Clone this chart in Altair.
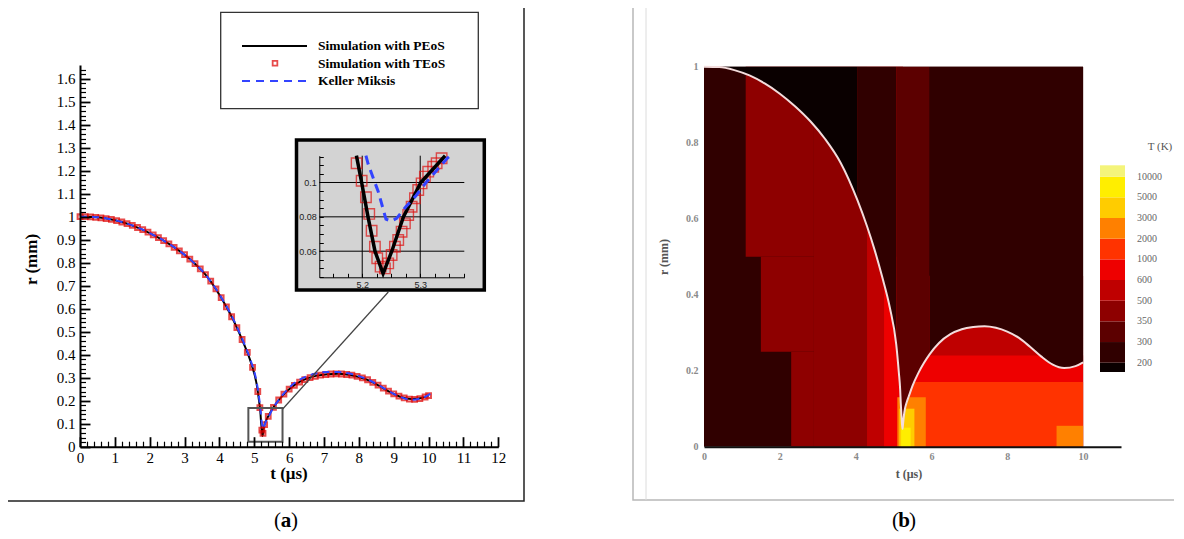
import altair as alt
import pandas as pd

# ---------------- data ----------------
# bubble radius r (mm) vs time t (us)
t_peos = [0.0, 0.4, 0.8, 1.2, 1.6, 2.0, 2.4, 2.8, 3.2, 3.6,
          4.05, 4.3, 4.5, 4.7, 4.9, 5.07, 5.14, 5.175, 5.19, 5.199,
          5.21, 5.222, 5.236, 5.251, 5.271, 5.301, 5.343, 5.4, 5.5, 5.65,
          5.8, 5.95, 6.2, 6.5, 6.8, 7.1, 7.4, 7.7, 8.0, 8.3,
          8.6, 8.9, 9.2, 9.5, 9.8, 10.0]
r_peos = [1.000, 0.999, 0.991, 0.977, 0.956, 0.929, 0.896, 0.857, 0.809, 0.748,
          0.648, 0.580, 0.518, 0.447, 0.367, 0.270, 0.195, 0.150, 0.1156, 0.100,
          0.080, 0.060, 0.047, 0.060, 0.080, 0.100, 0.1156, 0.132, 0.160, 0.193,
          0.220, 0.243, 0.273, 0.296, 0.309, 0.315, 0.317, 0.313, 0.303, 0.287,
          0.263, 0.237, 0.216, 0.207, 0.212, 0.222]

t_km = [0.0, 0.4, 0.8, 1.2, 1.6, 2.0, 2.4, 2.8, 3.2, 3.6,
        4.05, 4.3, 4.5, 4.7, 4.9, 5.07, 5.14, 5.18, 5.2064, 5.2102,
        5.2277, 5.2409, 5.25, 5.2593, 5.2753, 5.2926, 5.31, 5.3455, 5.352, 5.4,
        5.5, 5.65, 5.8, 5.95, 6.2, 6.5, 6.8, 7.1, 7.4, 7.7,
        8.0, 8.3, 8.6, 8.9, 9.2, 9.5, 9.8, 10.1]
r_km = [1.000, 0.999, 0.991, 0.977, 0.956, 0.929, 0.896, 0.857, 0.809, 0.748,
        0.650, 0.584, 0.522, 0.452, 0.373, 0.279, 0.210, 0.160, 0.1156, 0.1107,
        0.0946, 0.0787, 0.0775, 0.0791, 0.0859, 0.0923, 0.100, 0.1137, 0.1156, 0.127,
        0.157, 0.193, 0.223, 0.249, 0.282, 0.306, 0.319, 0.325, 0.325, 0.319,
        0.307, 0.289, 0.264, 0.238, 0.216, 0.204, 0.211, 0.235]

# TEoS markers as drawn in the main axes
t_teos = [0.0, 0.15, 0.3, 0.45, 0.6, 0.75, 0.9, 1.05, 1.2, 1.35,
          1.5, 1.65, 1.8, 1.95, 2.1, 2.25, 2.4, 2.55, 2.7, 2.85,
          3.0, 3.15, 3.3, 3.45, 3.6, 3.75, 3.9, 4.05, 4.2, 4.35,
          4.5, 4.65, 4.8, 4.95, 5.1, 5.16, 5.2162, 5.2507, 5.2966,
          5.4, 5.55, 5.7, 5.85, 6.0, 6.15, 6.3, 6.45, 6.6, 6.75,
          6.9, 7.05, 7.2, 7.35, 7.5, 7.65, 7.8, 7.95, 8.1, 8.25,
          8.4, 8.55, 8.7, 8.85, 9.0, 9.15, 9.3, 9.45, 9.6, 9.75,
          9.9, 10.0]
r_teos = [1.000, 1.000, 0.999, 0.997, 0.995, 0.992, 0.988, 0.983, 0.977, 0.970,
          0.962, 0.953, 0.944, 0.933, 0.921, 0.909, 0.896, 0.882, 0.867, 0.851,
          0.835, 0.816, 0.796, 0.773, 0.748, 0.720, 0.686, 0.648, 0.608, 0.565,
          0.518, 0.466, 0.410, 0.345, 0.240, 0.170, 0.0719, 0.0578, 0.0956,
          0.132, 0.171, 0.203, 0.229, 0.250, 0.267, 0.281, 0.292, 0.300, 0.306,
          0.311, 0.314, 0.316, 0.317, 0.316, 0.314, 0.311, 0.306, 0.299, 0.291,
          0.280, 0.268, 0.255, 0.242, 0.230, 0.220, 0.212, 0.207, 0.206, 0.209,
          0.216, 0.222]
# TEoS markers around the collapse (inset)
t_teos_zoom = [5.1903, 5.1990, 5.2064, 5.2121, 5.2162, 5.2219, 5.2259, 5.2317, 5.2391, 5.2448,
               5.2507, 5.2564, 5.2621, 5.2679, 5.2736, 5.2793, 5.2852, 5.2909, 5.2966, 5.3024,
               5.3081, 5.3138, 5.3224, 5.3283, 5.3369]
r_teos_zoom = [0.1112, 0.1010, 0.0914, 0.0817, 0.0719, 0.0626, 0.0559, 0.0510, 0.0500, 0.0529,
               0.0578, 0.0626, 0.0665, 0.0713, 0.0762, 0.0811, 0.0859, 0.0908, 0.0956, 0.0995,
               0.1034, 0.1063, 0.1092, 0.1112, 0.1141]

legend_names = ["Simulation with PEoS", "Simulation with TEoS", "Keller Miksis"]
zoom_window = [4.83, 5.81, 0.022, 0.168]          # t0, t1, r0, r1 of the small box
inset_t_domain = [5.126, 5.376]
inset_r_domain = [0.0448, 0.1156]
inset_grid_r = [0.06, 0.08, 0.1]
inset_grid_t = [5.2, 5.3]

# temperature field (panel b)
T_levels = [200, 300, 350, 500, 600, 1000, 2000, 3000, 5000, 10000]
T_labels = ["200", "300", "350", "500", "600", "1000", "2000", "3000", "5000", "10000"]
T_colors = ["#0a0000", "#300000", "#5c0000", "#8e0000", "#bf0000", "#ee0000",
            "#ff3300", "#ff8000", "#ffcc00", "#ffee00", "#f4f47a"]
# bubble-interior regions: t0, t1, r0, r1, T
hm_t0 = [0.0, 1.1, 1.5, 2.3, 2.9, 4.3, 4.75, 5.25, 5.25, 5.4, 5.1, 5.15, 5.2, 9.3]
hm_t1 = [10.0, 2.9, 2.9, 2.9, 4.3, 5.25, 5.2, 10.0, 10.0, 10.0, 5.85, 5.55, 5.45, 10.0]
hm_r0 = [0, 0.5, 0.25, 0, 0, 0, 0, 0, 0, 0, 0, 0, 0, 0]
hm_r1 = [1, 1, 0.5, 0.25, 1, 1, 0.5, 0.45, 0.24, 0.17, 0.13, 0.1, 0.05, 0.055]
hm_T = [250, 400, 400, 400, 400, 550, 800, 550, 800, 1500, 2500, 4000, 6000, 2500]
# liquid (outside the bubble) zones: t0, t1, T
ext_t0 = [0.0, 4.05, 5.07, 5.95]
ext_t1 = [4.05, 5.07, 5.95, 10.0]
ext_T = [150, 250, 320, 250]

# ---------------- layout helpers ----------------
W, H = 1166, 529
SERIF = "Liberation Serif"
SANS = "Liberation Sans"


def px(x):
    return x - 8


def py(y):
    return y - 8


def S(domain, rng):
    return alt.Scale(domain=domain, range=rng, nice=False, zero=False)


def ax(**kw):
    base = dict(grid=False, title=None, zindex=1, labelFlush=False, labelOverlap=False)
    base.update(kw)
    return alt.Axis(**base)


def tick_axis(orient, offset, values, size, width):
    return ax(orient=orient, offset=offset, values=values, labels=False, domain=False,
              ticks=True, tickSize=size, tickWidth=width, tickColor="black")


dummy = pd.DataFrame({"d": [0]})


def deco_rect(x0, y0, x1, y1, **kw):
    return alt.Chart(dummy).mark_rect(**kw).encode(
        x=alt.value(px(x0)), x2=alt.value(px(x1)), y=alt.value(py(y0)), y2=alt.value(py(y1)))


def deco_rule(x0, y0, x1, y1, **kw):
    return alt.Chart(dummy).mark_rule(**kw).encode(
        x=alt.value(px(x0)), x2=alt.value(px(x1)), y=alt.value(py(y0)), y2=alt.value(py(y1)))


def deco_text(x, y, text, **kw):
    return alt.Chart(dummy).mark_text(text=text, **kw).encode(
        x=alt.value(px(x)), y=alt.value(py(y)))


# scales (pixel ranges inside the single canvas)
A_X0, A_X1 = px(80), px(498.3)
A_Y0, A_YT = py(446.7), py(64.9)
SXA = S([0, 12], [A_X0, A_X1])
SYA = S([0, 1.66], [A_Y0, A_YT])

I_X0, I_X1 = px(319.3), px(464.3)
I_Y0, I_Y1 = py(277.3), py(155.7)
SXI = S(inset_t_domain, [I_X0, I_X1])
SYI = S(inset_r_domain, [I_Y0, I_Y1])

SXB = S([0, 11], [px(704), px(1121)])
SYB = S([0, 1], [py(446.7), py(66.7)])
SYC = S([-0.45, 9.55], [py(372), py(165.3)])

thresh = alt.Scale(type="threshold", domain=T_levels, range=T_colors)

x_major_a = list(range(13))
x_minor_a = [round(0.2 * i, 1) for i in range(61) if i % 5]
y_major_a = [round(0.1 * i, 1) for i in range(17)]
y_minor_a = [round(0.02 * i, 2) for i in range(83) if i % 5]
ins_x_ticks = [round(5.125 + 0.025 * i, 3) for i in range(1, 11)]
ins_y_ticks = [round(0.045 + 0.005 * i, 3) for i in range(15)]

df_peos = pd.DataFrame({"t": t_peos, "r": r_peos})
df_km = pd.DataFrame({"t": t_km, "r": r_km})
df_teos = pd.DataFrame({"t": t_teos, "r": r_teos})
df_teos_zoom = pd.DataFrame({"t": t_teos_zoom, "r": r_teos_zoom})

layers = []

# ---------------- panel (a) ----------------
layers.append(deco_rect(7, 6, 524, 501, filled=False, color="#222", strokeWidth=1.5))
layers.append(deco_rect(220.7, 12.4, 478.3, 108.6, filled=False, color="#333", strokeWidth=1.3))
layers.append(deco_rule(242, 46, 307, 46, color="black", strokeWidth=2))
layers.append(alt.Chart(dummy).mark_point(shape="square", filled=False, color="#dd0000",
                                          size=22, strokeWidth=1.8).encode(
    x=alt.value(px(275)), y=alt.value(py(63.3))))
layers.append(deco_rule(242, 81, 307, 81, color="#3344ff", strokeWidth=2, strokeDash=[8, 6]))
layers.append(alt.Chart(pd.DataFrame({"k": [0, 1, 2], "name": legend_names})).mark_text(
    align="left", baseline="middle", font=SERIF, fontSize=13.5, fontWeight="bold", color="black"
).encode(x=alt.value(px(318)), y=alt.Y("k:Q", scale=S([0, 2], [py(46), py(81)]), axis=None),
         text="name:N"))

layers.append(alt.Chart(df_peos).mark_line(color="black", strokeWidth=2, interpolate="monotone").encode(
    x=alt.X("t:Q", scale=SXA, axis=ax(orient="bottom", offset=A_Y0 - H, values=x_major_a,
                                      ticks=False, tickSize=0, domainColor="black", domainWidth=2,
                                      labelFont=SERIF, labelFontSize=15, labelColor="black",
                                      labelPadding=4)),
    y=alt.Y("r:Q", scale=SYA, axis=ax(orient="left", offset=-A_X0, values=y_major_a,
                                      ticks=False, tickSize=0, domainColor="black", domainWidth=2,
                                      labelFont=SERIF, labelFontSize=15, labelColor="black",
                                      labelPadding=5, labelExpr="format(datum.value, '~g')"))))
layers.append(alt.Chart(df_teos).mark_point(shape="square", filled=False, color="#dd0000",
                                            size=22, strokeWidth=2.1).encode(
    x=alt.X("t:Q", scale=SXA, axis=tick_axis("top", -A_Y0, x_minor_a, 5.5, 1.2)),
    y=alt.Y("r:Q", scale=SYA, axis=tick_axis("right", A_X0 - W, y_minor_a, 5.5, 1.2))))
layers.append(alt.Chart(df_km).mark_line(color="#3344ff", strokeWidth=2, strokeDash=[7, 5],
                                         interpolate="monotone").encode(
    x=alt.X("t:Q", scale=SXA, axis=tick_axis("top", -A_Y0, x_major_a, 10, 1.8)),
    y=alt.Y("r:Q", scale=SYA, axis=tick_axis("right", A_X0 - W, y_major_a, 10, 1.8))))

# zoom window and connector
layers.append(alt.Chart(dummy).mark_rect(filled=False, color="#555", strokeWidth=2).encode(
    x=alt.XDatum(zoom_window[0], type="quantitative", scale=SXA, axis=None),
    x2=alt.X2Datum(zoom_window[1]),
    y=alt.YDatum(zoom_window[2], type="quantitative", scale=SYA, axis=None),
    y2=alt.Y2Datum(zoom_window[3])))
layers.append(deco_rule(282.7, 409, 388.3, 292, color="#444", strokeWidth=1.2))

# inset
layers.append(deco_rect(296.5, 140, 484.3, 290, fill="#d3d3d3", stroke="black", strokeWidth=3.5))
layers.append(alt.Chart(pd.DataFrame({"r": inset_grid_r})).mark_rule(color="black", strokeWidth=1).encode(
    y=alt.Y("r:Q", scale=SYI, axis=ax(orient="left", offset=-I_X0, values=inset_grid_r,
                                      ticks=False, tickSize=0, domainColor="black", domainWidth=1,
                                      labelFont=SANS, labelFontSize=9, labelColor="#222",
                                      labelPadding=3, labelExpr="format(datum.value, '~g')")),
    x=alt.value(I_X0), x2=alt.value(I_X1)))
layers.append(alt.Chart(pd.DataFrame({"t": inset_grid_t})).mark_rule(color="black", strokeWidth=1).encode(
    x=alt.X("t:Q", scale=SXI, axis=ax(orient="bottom", offset=I_Y0 - H, values=inset_grid_t,
                                      ticks=False, tickSize=0, domainColor="black", domainWidth=1,
                                      labelFont=SANS, labelFontSize=9, labelColor="#222",
                                      labelPadding=3, labelExpr="format(datum.value, '~g')")),
    y=alt.value(I_Y1), y2=alt.value(I_Y0)))


def inset_filter(ch):
    return ch.transform_filter(
        alt.FieldRangePredicate(field="t", range=inset_t_domain)).transform_filter(
        alt.FieldRangePredicate(field="r", range=[inset_r_domain[0], inset_r_domain[1] + 0.0002]))


layers.append(inset_filter(alt.Chart(df_teos_zoom)).mark_point(
    shape="square", filled=False, color="#dd1111", size=110, strokeWidth=1.4).encode(
    x=alt.X("t:Q", scale=SXI, axis=tick_axis("top", -I_Y0, ins_x_ticks, 4, 1)),
    y=alt.Y("r:Q", scale=SYI, axis=tick_axis("right", I_X0 - W, ins_y_ticks, 4, 1))))
layers.append(inset_filter(alt.Chart(df_peos)).mark_line(color="black", strokeWidth=3.5).encode(
    x=alt.X("t:Q", scale=SXI, axis=None), y=alt.Y("r:Q", scale=SYI, axis=None)))
layers.append(inset_filter(alt.Chart(df_km)).mark_line(color="#3344ff", strokeWidth=3,
                                                      strokeDash=[9, 6]).encode(
    x=alt.X("t:Q", scale=SXI, axis=None), y=alt.Y("r:Q", scale=SYI, axis=None)))

# titles and caption (a)
layers.append(deco_text(31.7, 259.5, "r (mm)", angle=270, font=SERIF, fontSize=17,
                        fontWeight="bold", align="center", baseline="middle"))
layers.append(deco_text(289, 474, "t (μs)", font=SERIF, fontSize=17, fontWeight="bold",
                        align="center", baseline="middle"))
layers.append(deco_text(277.5, 521, "(", font=SERIF, fontSize=21, align="center", baseline="middle"))
layers.append(deco_text(286, 521, "a", font=SERIF, fontSize=21, fontWeight="bold",
                        align="center", baseline="middle"))
layers.append(deco_text(294.5, 521, ")", font=SERIF, fontSize=21, align="center", baseline="middle"))

# ---------------- panel (b) ----------------
layers.append(deco_rect(633, 6.5, 1192, 500, filled=False, color="#b8b8b8", strokeWidth=1.5))
layers.append(deco_rule(646, 7, 646, 500, color="#dcdcdc", strokeWidth=1))

df_hm = pd.DataFrame({"t0": hm_t0, "t1": hm_t1, "r0": hm_r0, "r1": hm_r1, "T": hm_T})
layers.append(alt.Chart(df_hm).mark_rect().encode(
    x=alt.X("t0:Q", scale=SXB, axis=None), x2="t1:Q",
    y=alt.Y("r0:Q", scale=SYB, axis=None), y2="r1:Q",
    color=alt.Color("T:Q", scale=thresh, legend=None)))

for z0, z1, zT in zip(ext_t0, ext_t1, ext_T):
    layers.append(alt.Chart(df_peos).transform_filter(
        alt.FieldRangePredicate(field="t", range=[z0, z1])).transform_calculate(
        T=str(zT)).mark_area(interpolate="monotone").encode(
        x=alt.X("t:Q", scale=SXB, axis=None),
        y=alt.Y("r:Q", scale=SYB, axis=None),
        y2=alt.Y2Datum(1.0),
        color=alt.Color("T:Q", scale=thresh, legend=None)))

layers.append(alt.Chart(df_peos).mark_line(color="#f3dcdc", strokeWidth=2, interpolate="monotone").encode(
    x=alt.X("t:Q", scale=SXB, axis=ax(orient="bottom", offset=py(446.7) - H, values=[0, 2, 4, 6, 8, 10],
                                      ticks=False, tickSize=0, domainColor="#111", domainWidth=2,
                                      labelFont=SERIF, labelFontSize=10, labelFontWeight="bold",
                                      labelColor="#8a8a8a", labelPadding=5)),
    y=alt.Y("r:Q", scale=SYB, axis=ax(orient="left", offset=-px(704), values=[0, 0.2, 0.4, 0.6, 0.8, 1],
                                      ticks=False, tickSize=0, domain=False,
                                      labelFont=SERIF, labelFontSize=10, labelFontWeight="bold",
                                      labelColor="#8a8a8a", labelPadding=6,
                                      labelExpr="format(datum.value, '~g')"))))

# colour bar
df_cb = pd.DataFrame({"k0": [-0.45] + list(range(10)),
                      "k1": list(range(10)) + [9.55],
                      "T": [150] + T_levels})
layers.append(alt.Chart(df_cb).mark_rect().encode(
    x=alt.value(px(1100)), x2=alt.value(px(1125)),
    y=alt.Y("k0:Q", scale=SYC, axis=None), y2="k1:Q",
    color=alt.Color("T:Q", scale=thresh, legend=None)))
layers.append(alt.Chart(pd.DataFrame({"k": list(range(10)), "lab": T_labels})).mark_text(
    align="left", baseline="middle", font=SERIF, fontSize=10, color="#666").encode(
    x=alt.value(px(1137)), y=alt.Y("k:Q", scale=SYC, axis=None), text="lab:N"))
layers.append(deco_text(1160, 147, "T (K)", font=SERIF, fontSize=11, color="#555",
                        align="center", baseline="middle"))

layers.append(deco_text(664, 257, "r (mm)", angle=270, font=SERIF, fontSize=12, fontWeight="bold",
                        color="#555", align="center", baseline="middle"))
layers.append(deco_text(909, 474, "t (μs)", font=SERIF, fontSize=12, fontWeight="bold",
                        color="#555", align="center", baseline="middle"))
layers.append(deco_text(895.5, 521, "(", font=SERIF, fontSize=21, align="center", baseline="middle"))
layers.append(deco_text(904, 521, "b", font=SERIF, fontSize=21, fontWeight="bold",
                        align="center", baseline="middle"))
layers.append(deco_text(912.5, 521, ")", font=SERIF, fontSize=21, align="center", baseline="middle"))

chart = alt.layer(*layers).resolve_scale(
    x="independent", y="independent", color="independent"
).properties(
    width=W, height=H, padding=0, autosize=alt.AutoSizeParams(type="none")
).configure_view(strokeWidth=0)

chart.save("out.html", embed_options={"renderer": "svg", "actions": False})
